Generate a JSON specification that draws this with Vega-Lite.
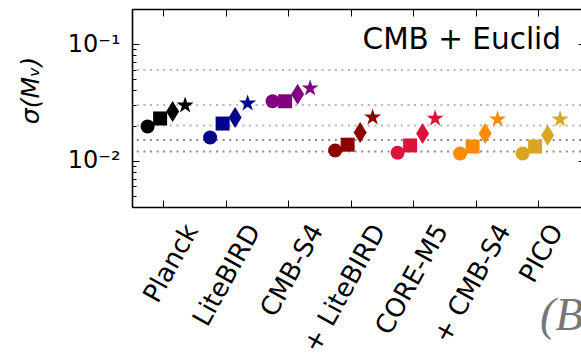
{
  "$schema": "https://vega.github.io/schema/vega-lite/v6.json",
  "width": 449,
  "height": 198,
  "autosize": {"type": "none"},
  "padding": {"left": 132, "top": 9, "right": 0, "bottom": 149},
  "background": "white",
  "title": {
    "text": "CMB + Euclid",
    "anchor": "end",
    "frame": "group",
    "orient": "top",
    "offset": 0,
    "dx": -20,
    "dy": 70,
    "baseline": "alphabetic",
    "font": "DejaVu Sans",
    "fontSize": 29.5,
    "fontWeight": "normal",
    "color": "black"
  },
  "config": {
    "view": {"stroke": null},
    "axis": {
      "grid": false,
      "domainColor": "black",
      "domainWidth": 1.6,
      "tickColor": "black",
      "tickWidth": 1,
      "labelColor": "black",
      "labelFont": "DejaVu Sans",
      "titleFont": "DejaVu Sans",
      "labelOverlap": false,
      "labelFlush": false,
      "labelBound": false
    }
  },
  "resolve": {"axis": {"x": "independent", "y": "independent"}},
  "layer": [
    {
      "data": {"values": [{"level": 0.06}, {"level": 0.03}, {"level": 0.02}]},
      "mark": {"type": "rule", "color": "#b8b8b8", "strokeWidth": 2, "strokeDash": [2, 4.6]},
      "encoding": {
        "y": {
          "field": "level",
          "type": "quantitative",
          "scale": {"type": "log", "domain": [0.004, 0.2], "nice": false},
          "axis": {
            "orient": "left",
            "values": [0.004, 0.005, 0.006, 0.007, 0.008, 0.009, 0.02, 0.03, 0.04, 0.05, 0.06, 0.07, 0.08, 0.09, 0.2],
            "tickSize": -4,
            "labels": false,
            "domain": false,
            "title": null
          }
        }
      }
    },
    {
      "data": {"values": [{"level": 0.015}, {"level": 0.012}]},
      "mark": {"type": "rule", "color": "#8c8c8c", "strokeWidth": 2, "strokeDash": [2, 4.6]},
      "encoding": {
        "y": {"field": "level", "type": "quantitative", "axis": null}
      }
    },
    {
      "data": {
        "values": [
          {"exp": "Planck", "marker": "circle", "x": -0.25, "sigma": 0.0196},
          {"exp": "Planck", "marker": "square", "x": -0.05, "sigma": 0.0230},
          {"exp": "Planck", "marker": "diamond", "x": 0.15, "sigma": 0.0264},
          {"exp": "Planck", "marker": "star", "x": 0.35, "sigma": 0.0298},
          {"exp": "LiteBIRD", "marker": "circle", "x": 0.75, "sigma": 0.0158},
          {"exp": "LiteBIRD", "marker": "square", "x": 0.95, "sigma": 0.0208},
          {"exp": "LiteBIRD", "marker": "diamond", "x": 1.15, "sigma": 0.0235},
          {"exp": "LiteBIRD", "marker": "star", "x": 1.35, "sigma": 0.0310},
          {"exp": "CMB-S4", "marker": "circle", "x": 1.75, "sigma": 0.0323},
          {"exp": "CMB-S4", "marker": "square", "x": 1.95, "sigma": 0.0323},
          {"exp": "CMB-S4", "marker": "diamond", "x": 2.15, "sigma": 0.0371},
          {"exp": "CMB-S4", "marker": "star", "x": 2.35, "sigma": 0.0418},
          {"exp": "+ LiteBIRD", "marker": "circle", "x": 2.75, "sigma": 0.0122},
          {"exp": "+ LiteBIRD", "marker": "square", "x": 2.95, "sigma": 0.0137},
          {"exp": "+ LiteBIRD", "marker": "diamond", "x": 3.15, "sigma": 0.0174},
          {"exp": "+ LiteBIRD", "marker": "star", "x": 3.35, "sigma": 0.0235},
          {"exp": "CORE-M5", "marker": "circle", "x": 3.75, "sigma": 0.0117},
          {"exp": "CORE-M5", "marker": "square", "x": 3.95, "sigma": 0.0135},
          {"exp": "CORE-M5", "marker": "diamond", "x": 4.15, "sigma": 0.0171},
          {"exp": "CORE-M5", "marker": "star", "x": 4.35, "sigma": 0.0230},
          {"exp": "+ CMB-S4", "marker": "circle", "x": 4.75, "sigma": 0.0115},
          {"exp": "+ CMB-S4", "marker": "square", "x": 4.95, "sigma": 0.0132},
          {"exp": "+ CMB-S4", "marker": "diamond", "x": 5.15, "sigma": 0.0171},
          {"exp": "+ CMB-S4", "marker": "star", "x": 5.35, "sigma": 0.0226}
        ]
      },
      "mark": {"type": "point", "filled": true, "opacity": 1, "strokeWidth": 0},
      "encoding": {
        "x": {
          "field": "x",
          "type": "quantitative",
          "scale": {"domain": [-0.5, 6.684], "nice": false, "zero": false},
          "axis": {
            "orient": "bottom",
            "values": [0, 1, 2, 3, 4, 5],
            "labelExpr": "['Planck','LiteBIRD','CMB-S4','+ LiteBIRD','CORE-M5','+ CMB-S4'][datum.value]",
            "tickSize": -7,
            "labelAngle": -61,
            "labelAlign": "right",
            "labelBaseline": "middle",
            "labelPadding": 26,
            "labelOffset": 28,
            "labelFontSize": 26,
            "title": null
          }
        },
        "y": {
          "field": "sigma",
          "type": "quantitative",
          "scale": {"type": "log", "domain": [0.004, 0.2], "nice": false},
          "axis": {
            "orient": "left",
            "values": [0.01, 0.1],
            "labelExpr": "datum.value < 0.05 ? '10⁻²' : '10⁻¹'",
            "tickSize": -7,
            "labelPadding": 19,
            "labelFontSize": 24,
            "title": "σ(Mᵥ)",
            "titleFontSize": 25,
            "titleFontWeight": "normal",
            "titleFontStyle": "italic",
            "titleAngle": -90,
            "titleAlign": "center",
            "titleBaseline": "middle",
            "titleX": -102,
            "titleY": 81
          }
        },
        "color": {
          "field": "exp",
          "type": "nominal",
          "scale": {
            "domain": ["Planck", "LiteBIRD", "CMB-S4", "+ LiteBIRD", "CORE-M5", "+ CMB-S4", "PICO"],
            "range": ["#000000", "#00008b", "#800080", "#8b0000", "#dc143c", "#ff8c00", "#daa520"]
          },
          "legend": null
        },
        "shape": {
          "field": "marker",
          "type": "nominal",
          "scale": {
            "domain": ["circle", "square", "diamond", "star"],
            "range": ["circle", "square", "M0,-1L0.62,0L0,1L-0.62,0Z", "M0,-1L0.2245,-0.309L0.951,-0.309L0.363,0.118L0.588,0.809L0,0.382L-0.588,0.809L-0.363,0.118L-0.951,-0.309L-0.2245,-0.309Z"]
          },
          "legend": null
        },
        "size": {
          "field": "marker",
          "type": "nominal",
          "scale": {"type": "ordinal", "domain": ["circle", "square", "diamond", "star"], "range": [196, 196, 441, 320]},
          "legend": null
        }
      }
    },
    {
      "data": {
        "values": [
          {"exp": "PICO", "marker": "circle", "x": 5.75, "sigma": 0.0115},
          {"exp": "PICO", "marker": "square", "x": 5.95, "sigma": 0.0132},
          {"exp": "PICO", "marker": "diamond", "x": 6.15, "sigma": 0.0165},
          {"exp": "PICO", "marker": "star", "x": 6.35, "sigma": 0.0226}
        ]
      },
      "mark": {"type": "point", "filled": true, "opacity": 1, "strokeWidth": 0},
      "encoding": {
        "x": {
          "field": "x",
          "type": "quantitative",
          "scale": {"domain": [-0.5, 6.684], "nice": false, "zero": false},
          "axis": {
            "orient": "bottom",
            "values": [6],
            "labelExpr": "'PICO'",
            "tickSize": -7,
            "domain": false,
            "labelAngle": -61,
            "labelAlign": "right",
            "labelBaseline": "middle",
            "labelPadding": 26,
            "labelOffset": 18,
            "labelFontSize": 26,
            "title": null
          }
        },
        "y": {
          "field": "sigma",
          "type": "quantitative",
          "scale": {"type": "log", "domain": [0.004, 0.2], "nice": false},
          "axis": null
        },
        "color": {
          "field": "exp",
          "type": "nominal",
          "scale": {
            "domain": ["Planck", "LiteBIRD", "CMB-S4", "+ LiteBIRD", "CORE-M5", "+ CMB-S4", "PICO"],
            "range": ["#000000", "#00008b", "#800080", "#8b0000", "#dc143c", "#ff8c00", "#daa520"]
          },
          "legend": null
        },
        "shape": {
          "field": "marker",
          "type": "nominal",
          "scale": {
            "domain": ["circle", "square", "diamond", "star"],
            "range": ["circle", "square", "M0,-1L0.62,0L0,1L-0.62,0Z", "M0,-1L0.2245,-0.309L0.951,-0.309L0.363,0.118L0.588,0.809L0,0.382L-0.588,0.809L-0.363,0.118L-0.951,-0.309L-0.2245,-0.309Z"]
          },
          "legend": null
        },
        "size": {
          "field": "marker",
          "type": "nominal",
          "scale": {"type": "ordinal", "domain": ["circle", "square", "diamond", "star"], "range": [196, 196, 441, 320]},
          "legend": null
        }
      }
    },
    {
      "data": {"values": [{"note": "(B)", "px": 6.028, "py": 0.00035}]},
      "mark": {"type": "text", "align": "left", "baseline": "alphabetic", "font": "Liberation Serif", "fontStyle": "italic", "fontSize": 46, "color": "#777777"},
      "encoding": {
        "x": {
          "field": "px",
          "type": "quantitative",
          "axis": {
            "orient": "top",
            "values": [0, 1, 2, 3, 4, 5, 6],
            "tickSize": -7,
            "labels": false,
            "title": null
          }
        },
        "y": {
          "field": "py",
          "type": "quantitative",
          "axis": {
            "orient": "right",
            "values": [0.01, 0.1],
            "tickSize": -3,
            "labels": false,
            "domain": false,
            "title": null
          }
        },
        "text": {"field": "note"}
      }
    }
  ]
}
